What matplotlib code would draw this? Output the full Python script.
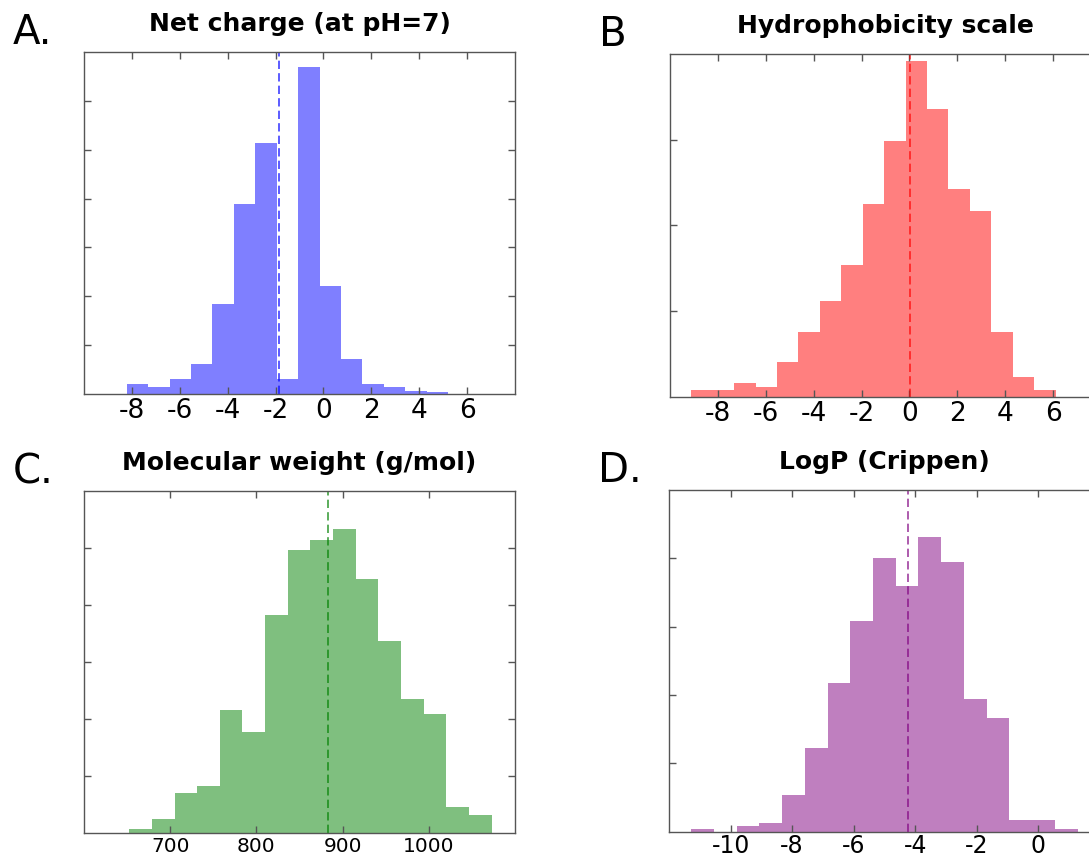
import numpy as np
import matplotlib
matplotlib.use('Agg')
import matplotlib.pyplot as plt

plt.rcParams['font.family'] = ['DejaVu Sans']
plt.rcParams['axes.unicode_minus'] = False

# Bin heights (units of one y tick interval)
charge_counts = [0.20, 0.15, 0.30, 0.61, 1.84, 3.89, 5.13, 0.30, 6.70, 2.21,
                 0.72, 0.20, 0.15, 0.06, 0.05]
charge_range = (-8.21, 5.20)
charge_mean = -1.87

hydro_counts = [0.074, 0.074, 0.156, 0.109, 0.409, 0.751, 1.117, 1.533, 2.245,
                2.988, 3.914, 3.358, 2.428, 2.167, 0.751, 0.226, 0.074]
hydro_range = (-9.11, 6.10)
hydro_mean = 0.01

mw_counts = [0.07, 0.25, 0.71, 0.83, 2.17, 1.78, 3.82, 4.96, 5.14, 5.33,
             4.45, 3.37, 2.35, 2.09, 0.46, 0.32]
mw_range = (652.5, 1072.8)
mw_mean = 883.4

logp_counts = [0.034, 0.0, 0.088, 0.132, 0.54, 1.22, 2.18, 3.09, 4.00, 3.59,
               4.31, 3.94, 1.94, 1.67, 0.17, 0.17, 0.034]
logp_range = (-11.28, 1.27)
logp_mean = -4.23

titles = ['Net charge (at pH=7)', 'Hydrophobicity scale',
          'Molecular weight (g/mol)', 'LogP (Crippen)']
letters = ['A.', 'B', 'C.', 'D.']

fig = plt.figure(figsize=(10.89, 8.59), dpi=100)

# axes placed in pixels of the 1089x859 canvas (right column runs off the edge)
W, H = 1089.0, 859.0
boxes = [(84, 52, 515, 394), (670, 54, 1101, 396.7),
         (84, 491, 515, 833.3), (669, 490, 1100, 831.7)]

panels = [
    (charge_counts, charge_range, charge_mean, 'b', (-10, 8), range(-8, 7, 2), 7, 19, 3),
    (hydro_counts, hydro_range, hydro_mean, 'r', (-10, 8), range(-8, 7, 2), 4, 19, 3),
    (mw_counts, mw_range, mw_mean, 'g', (600, 1100), range(700, 1001, 100), 6, 14.5, 3),
    (logp_counts, logp_range, logp_mean, 'purple', (-12, 2), range(-10, 1, 2), 5, 17, 1.5),
]

for (counts, rng, mean, col, xlim, xt, ntop, lsize, lpad), box, title, letter in zip(panels, boxes, titles, letters):
    x0, y0, x1, y1 = box
    ax = fig.add_axes([x0 / W, 1 - y1 / H, (x1 - x0) / W, (y1 - y0) / H])
    edges = np.linspace(rng[0], rng[1], len(counts) + 1)
    ax.stairs(counts, edges, fill=True, color=col, alpha=0.5, linewidth=0)
    ax.axvline(mean, color=col, alpha=0.75, linewidth=1.2, linestyle=(0, (5, 2.5)))
    ax.set_xlim(*xlim)
    ax.set_ylim(0, ntop)
    ax.set_xticks(list(xt))
    ax.set_yticks(range(1, ntop))
    ax.tick_params(direction='in', top=True, right=True, length=5, width=1,
                   color='#555555', labelsize=lsize, labelleft=False, pad=lpad)
    for s in ax.spines.values():
        s.set_color('#555555')
        s.set_linewidth(1)
    ax.set_title(title, fontsize=18, fontweight='bold', pad=15)
    fig.text((x0 - 71) / W, 1 - (y0 - 8) / H, letter, fontsize=29,
             ha='left', va='baseline')

fig.savefig('out.png', dpi=100)
